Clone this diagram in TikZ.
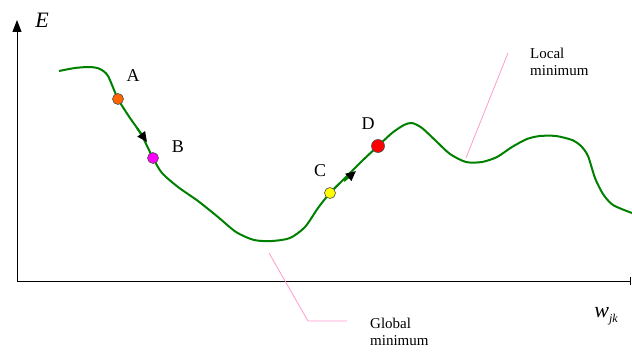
\documentclass[tikz,border=0pt]{standalone}
\usepackage{fontspec}
\setmainfont{Liberation Serif}
\usetikzlibrary{arrows.meta}
\definecolor{curvegreen}{HTML}{008000}
\definecolor{leaderpink}{HTML}{FF99CC}
\definecolor{pointorange}{HTML}{FF6600}
\definecolor{pointmagenta}{HTML}{FF00FF}
\definecolor{pointyellow}{HTML}{FFFF00}
\definecolor{pointred}{HTML}{FF0000}

\begin{document}
\begin{tikzpicture}[x=1pt,y=-1pt,
  axis/.style={line width=1pt,black},
  curve/.style={line width=2pt,curvegreen},
  pt/.style={circle,draw=black!70,line width=0.6pt,inner sep=0pt,minimum size=11pt},
  lbl/.style={font=\fontsize{18}{20}\selectfont,inner sep=0pt},
  note/.style={font=\fontsize{15}{17}\selectfont,align=left,inner sep=0pt,anchor=north west},
  leader/.style={leaderpink,line width=0.8pt},
  tip/.style={curvegreen,line width=2pt,-{Triangle[length=10pt,width=9pt,color=black]}}]

  \useasboundingbox (0,0) rectangle (632,353);

  \coordinate (origin) at (17,281);
  \coordinate (ytop) at (17,20);
  \coordinate (xend) at (631,281);
  \draw[axis,-{Triangle[length=12pt,width=9pt]}] (origin) -- (ytop);
  \draw[axis,-{Bar[width=8pt]}] (origin) -- (xend);
  \node[font=\fontsize{22}{24}\selectfont\itshape,inner sep=0pt] (elabel) at (42,20) {E};
  \node[font=\fontsize{22}{24}\selectfont\itshape,inner sep=0pt] (wlabel) at (606,316) {w\raisebox{-5pt}{\fontsize{12}{14}\selectfont jk}};

  \draw[curve] plot[smooth,tension=0.45] coordinates {
    (59,71) (75,68) (90,67) (100,69) (108,76) (118,99) (130,118)
    (141,134) (153,158) (162,173) (178,187) (198,201) (218,217)
    (236,232) (254,240) (272,241) (290,238) (305,227) (318,208)
    (330,193) (345,178) (362,161) (378,146) (392,133) (404,125)
    (412,123) (422,128) (436,141) (450,154) (466,162) (482,162)
    (497,157) (512,147) (527,139) (540,136) (556,136) (572,140)
    (581,146) (588,156) (595,178) (603,194) (613,205) (632,213)};

  \coordinate (ab1) at (137,128);
  \coordinate (ab2) at (147,142);
  \draw[tip] (ab1) -- (ab2);
  \coordinate (cd1) at (344,181);
  \coordinate (cd2) at (356,171);
  \draw[tip] (cd1) -- (cd2);

  \node[pt,fill=pointorange] (ptA) at (118,99) {};
  \node[pt,fill=pointmagenta] (ptB) at (153,158) {};
  \node[pt,fill=pointyellow] (ptC) at (330,193) {};
  \node[pt,fill=pointred,minimum size=13pt] (ptD) at (378,146) {};

  \node[lbl] (labA) at (133,76) {A};
  \node[lbl] (labB) at (178,147) {B};
  \node[lbl] (labC) at (320,171) {C};
  \node[lbl] (labD) at (368,124) {D};

  \node[note] (glob) at (370,318) {Global\\minimum};
  \coordinate (globtip) at (269,253);
  \coordinate (globbend) at (308,321);
  \coordinate (globend) at (347,321);
  \draw[leader] (globtip) -- (globbend) -- (globend);

  \node[note] (loc) at (530,48) {Local\\minimum};
  \coordinate (loctip) at (466,158);
  \coordinate (locend) at (508,53);
  \draw[leader] (loctip) -- (locend);
\end{tikzpicture}
\end{document}
